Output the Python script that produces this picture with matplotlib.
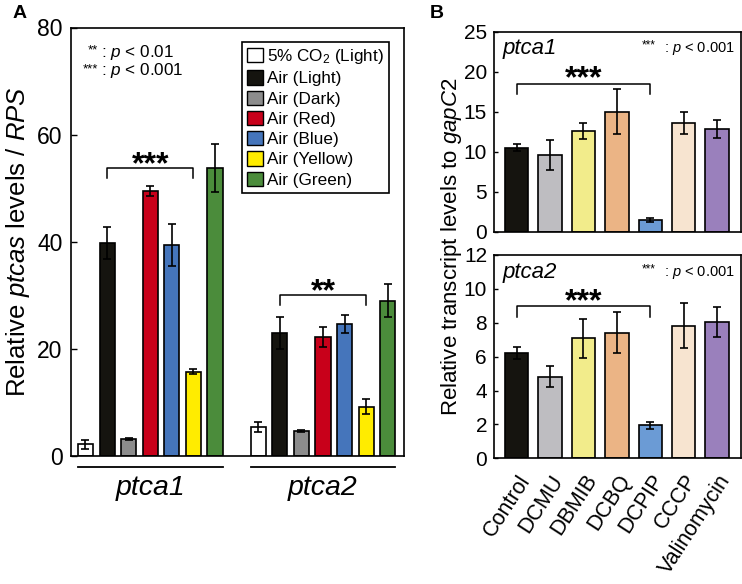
import matplotlib
matplotlib.use('Agg')
import matplotlib.pyplot as plt
import numpy as np
from matplotlib.patches import Patch
import matplotlib.transforms as mtrans

plt.rcParams['font.family'] = ['Liberation Sans', 'DejaVu Sans']
plt.rcParams['mathtext.fontset'] = 'custom'
plt.rcParams['mathtext.rm'] = 'Liberation Sans'
plt.rcParams['mathtext.it'] = 'Liberation Sans:italic'
plt.rcParams['mathtext.bf'] = 'Liberation Sans:bold'

# ---------------- data ----------------
conditions = ['5% CO$_2$ (Light)', 'Air (Light)', 'Air (Dark)', 'Air (Red)',
              'Air (Blue)', 'Air (Yellow)', 'Air (Green)']
genes_a = ['ptca1', 'ptca2']
ptca1_vals = [2.2, 39.8, 3.2, 49.5, 39.4, 15.7, 53.8]
ptca1_err = [0.8, 3.0, 0.25, 1.0, 4.0, 0.45, 4.5]
ptca2_vals = [5.4, 23.0, 4.7, 22.2, 24.6, 9.2, 29.0]
ptca2_err = [1.0, 3.0, 0.2, 1.8, 1.7, 1.4, 3.1]
colors_a = ['#ffffff', '#15140f', '#8c8c8c', '#c8001a', '#4575bb', '#ffec00', '#4b8c3b']

treatments = ['Control', 'DCMU', 'DBMIB', 'DCBQ', 'DCPIP', 'CCCP', 'Valinomycin']
b_ptca1 = [10.5, 9.6, 12.6, 15.0, 1.46, 13.6, 12.8]
b_ptca1_err = [0.45, 1.9, 1.0, 2.8, 0.25, 1.4, 1.1]
b_ptca2 = [6.2, 4.82, 7.08, 7.42, 1.95, 7.83, 8.06]
b_ptca2_err = [0.35, 0.6, 1.15, 1.2, 0.22, 1.33, 0.9]
colors_b = ['#15140f', '#bebdc1', '#f2ec8b', '#ebb485', '#6b9bd5', '#f7e4d0', '#9a80bc']

W, H = 742, 584
fig = plt.figure(figsize=(W / 100, H / 100), dpi=100)

def px_axes(l, t, r, b):
    return fig.add_axes([l / W, 1 - b / H, (r - l) / W, (b - t) / H])

LW = 1.2
ekw = dict(ecolor='black', elinewidth=1.2, capsize=3, capthick=1.2)

# ---------------- panel A ----------------
axA = px_axes(71, 27.5, 404, 456)
x1 = np.arange(7)
x2 = np.arange(7) + 8
axA.bar(x1, ptca1_vals, width=0.7, color=colors_a, edgecolor='black', linewidth=LW,
        yerr=ptca1_err, error_kw=ekw)
axA.bar(x2, ptca2_vals, width=0.7, color=colors_a, edgecolor='black', linewidth=LW,
        yerr=ptca2_err, error_kw=ekw)
axA.set_xlim(-0.67, 14.75)
axA.set_ylim(0, 80)
axA.set_yticks([0, 20, 40, 60, 80])
axA.set_xticks([])
axA.tick_params(axis='y', direction='in', length=4, width=1.0, labelsize=16.5, pad=6)
for s in axA.spines.values():
    s.set_linewidth(LW)

trA = mtrans.blended_transform_factory(axA.transData, axA.transAxes)
for xs, g in [(x1, genes_a[0]), (x2, genes_a[1])]:
    axA.plot([xs[0] - 0.35, xs[-1] + 0.35], [-0.026, -0.026], color='black', lw=1.3,
             transform=trA, clip_on=False)
    axA.text(xs.mean(), -0.075, g, transform=trA, ha='center', va='center',
             fontsize=20.5, style='italic')

def bracket(ax, xa, xb, y, drop, label, fs, dy):
    ax.plot([xa, xa, xb, xb], [y - drop, y, y, y - drop], color='black', lw=1.1)
    ax.text((xa + xb) / 2, y + dy, label, ha='center', va='baseline', fontsize=fs,
            fontweight='bold')

bracket(axA, 1, 5, 53.8, 1.9, '***', 23, -1.0)
bracket(axA, 9, 13, 30.1, 2.0, '**', 23, -1.0)

handles = [Patch(facecolor=c, edgecolor='black', linewidth=1.0) for c in colors_a]
leg = axA.legend(handles, conditions, loc='upper right', bbox_to_anchor=(0.955, 0.966),
                 fontsize=12.3, frameon=True, fancybox=False, framealpha=1,
                 edgecolor='black', borderaxespad=0, handlelength=0.9, handleheight=0.9,
                 handletextpad=0.25, labelspacing=0.25, borderpad=0.3)
leg.get_frame().set_linewidth(LW)

# significance key
fig.text(98 / W, 1 - 50 / H, '**', ha='right', va='center', fontsize=9.5)
fig.text(101 / W, 1 - 52 / H, ': $\\it{p}$ < 0.01', ha='left', va='center', fontsize=12.3)
fig.text(98 / W, 1 - 69 / H, '***', ha='right', va='center', fontsize=9.5)
fig.text(101 / W, 1 - 71 / H, ': $\\it{p}$ < 0.001', ha='left', va='center', fontsize=12.3)

fig.text(18 / W, 1 - 242 / H, 'Relative $\\it{ptcas}$ levels / $\\it{RPS}$', rotation=90,
         ha='center', va='center', fontsize=18.5)
fig.text(20 / W, 1 - 13 / H, 'A', ha='center', va='center', fontsize=14, fontweight='bold')

# ---------------- panel B ----------------
axB1 = px_axes(494, 31.7, 740.7, 231.7)
axB2 = px_axes(494, 255, 740.7, 458.3)
xb = np.arange(7)
axB1.bar(xb, b_ptca1, width=0.7, color=colors_b, edgecolor='black', linewidth=LW,
         yerr=b_ptca1_err, error_kw=ekw)
axB2.bar(xb, b_ptca2, width=0.7, color=colors_b, edgecolor='black', linewidth=LW,
         yerr=b_ptca2_err, error_kw=ekw)
axB1.set_ylim(0, 25)
axB1.set_yticks([0, 5, 10, 15, 20, 25])
axB2.set_ylim(0, 12)
axB2.set_yticks([0, 2, 4, 6, 8, 10, 12])
for ax in (axB1, axB2):
    ax.set_xlim(-0.68, 6.71)
    ax.tick_params(axis='y', direction='in', length=3, width=1.0, labelsize=15, pad=5)
    for s in ax.spines.values():
        s.set_linewidth(LW)
axB1.set_xticks([])
axB2.set_xticks(xb)
labs = axB2.set_xticklabels(treatments, rotation=57, ha='right', va='top',
                            rotation_mode='anchor', fontsize=15.5)
off = mtrans.ScaledTranslation(9 / 100, 0, fig.dpi_scale_trans)
for t in labs:
    t.set_transform(t.get_transform() + off)
axB2.tick_params(axis='x', length=0, pad=9)

axB1.text(0.033, 0.915, 'ptca1', transform=axB1.transAxes, ha='left', va='center',
          fontsize=16, style='italic')
axB2.text(0.033, 0.915, 'ptca2', transform=axB2.transAxes, ha='left', va='center',
          fontsize=16, style='italic')
for ax in (axB1, axB2):
    ax.text(0.655, 0.93, '***', transform=ax.transAxes, ha='right', va='center',
            fontsize=8.5)
    ax.text(0.69, 0.915, ': $\\it{p}$ < 0.001', transform=ax.transAxes,
            ha='left', va='center', fontsize=10.5)

bracket(axB1, 0, 4, 18.5, 1.3, '***', 23, -0.5)
bracket(axB2, 0, 4, 9.0, 0.64, '***', 23, -0.25)

fig.text(452 / W, 1 - 247 / H, 'Relative transcript levels to $\\it{gapC2}$', rotation=90,
         ha='center', va='center', fontsize=16)
fig.text(437 / W, 1 - 13 / H, 'B', ha='center', va='center', fontsize=14, fontweight='bold')

fig.savefig('out.png', dpi=100)
